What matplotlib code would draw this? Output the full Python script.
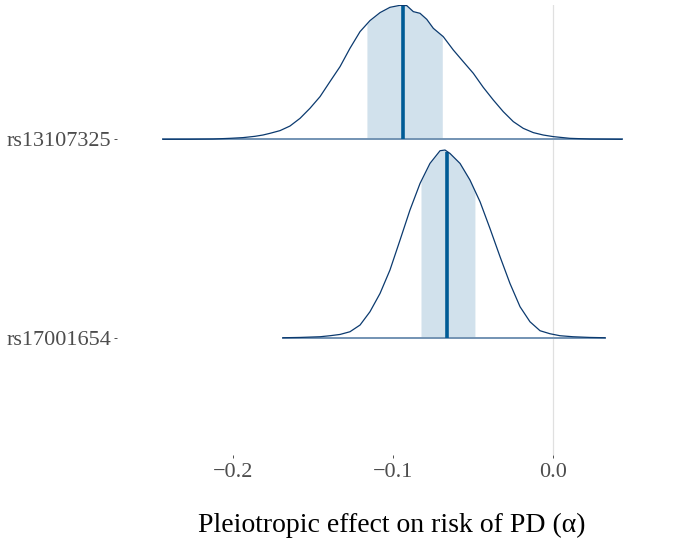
import numpy as np
import matplotlib
matplotlib.use("Agg")
import matplotlib.pyplot as plt

# ---- data ----
params = ["rs17001654", "rs13107325"]  # bottom to top

# rs13107325 scaled density
x_top = [-0.2438, -0.2269, -0.2125, -0.2019, -0.1938, -0.1863, -0.1813, -0.1769,
         -0.1706, -0.1644, -0.1581, -0.1519, -0.1456, -0.1394, -0.1331, -0.1269,
         -0.1206, -0.1144, -0.1081, -0.1019, -0.0956, -0.0914, -0.0873, -0.0831,
         -0.0789, -0.0748, -0.0686, -0.0623, -0.0561, -0.0498, -0.0436, -0.0373,
         -0.0311, -0.0248, -0.0186, -0.0123, -0.0061, 0.0002, 0.0106, 0.0231, 0.0431]
d_top = [0.0, 0.0003, 0.0015, 0.0050, 0.0086, 0.0151, 0.0217, 0.0302,
         0.0439, 0.0670, 0.1058, 0.1563, 0.2152, 0.2908, 0.3664, 0.4587,
         0.5428, 0.5983, 0.6386, 0.6653, 0.6754, 0.6739, 0.6436, 0.6351,
         0.6048, 0.5595, 0.5176, 0.4501, 0.3916, 0.3327, 0.2621, 0.1981,
         0.1396, 0.0892, 0.0554, 0.0338, 0.0217, 0.0136, 0.0050, 0.0015, 0.0]

# rs17001654 scaled density
x_bot = [-0.1688, -0.1581, -0.1456, -0.1394, -0.1331, -0.1269, -0.1206, -0.1144,
         -0.1081, -0.1019, -0.0956, -0.0894, -0.0831, -0.0769, -0.0706, -0.0675,
         -0.0644, -0.0581, -0.0519, -0.0456, -0.0394, -0.0331, -0.0269, -0.0206,
         -0.0144, -0.0081, -0.0019, 0.0044, 0.0125, 0.0231, 0.0325]
d_bot = [0.0, 0.0015, 0.0050, 0.0101, 0.0166, 0.0302, 0.0640, 0.1310,
         0.2233, 0.3412, 0.4924, 0.6436, 0.7777, 0.8785, 0.9425, 0.9461,
         0.9289, 0.8785, 0.7949, 0.6855, 0.5509, 0.4083, 0.2737, 0.1562,
         0.0806, 0.0353, 0.0202, 0.0101, 0.0050, 0.0015, 0.0]

medians = [-0.0661, -0.0936]          # bottom, top
ci_low = [-0.0825, -0.1163]
ci_high = [-0.0488, -0.0692]

xticks = [-0.2, -0.1, 0.0]
xtick_labels = ["\u22120.2", "\u22120.1", "0.0"]
xlabel = "Pleiotropic effect on risk of PD (\u03b1)"

# ---- style ----
plt.rcParams["font.family"] = ["Liberation Serif", "DejaVu Serif"]
c_outline = "#0b3a6f"
c_fill = "#d1e1ec"
c_median = "#005b96"
c_base = "#7393b3"
c_zero = "#e0e0e0"

fig = plt.figure(figsize=(6.75, 5.4), dpi=100)
ax = fig.add_axes([117 / 675, 1 - 455 / 540, (667 - 117) / 675, (455 - 5) / 540])

ax.axvline(0.0, color=c_zero, lw=0.9, zorder=0)

curves = [(x_bot, d_bot), (x_top, d_top)]
for i, (xs, ds) in enumerate(curves):
    y0 = i + 1
    xs = np.asarray(xs)
    ds = np.asarray(ds)
    # interval shading
    lo, hi = ci_low[i], ci_high[i]
    inner = xs[(xs > lo) & (xs < hi)]
    xi = np.concatenate([[lo], inner, [hi]])
    di = np.interp(xi, xs, ds)
    ax.fill_between(xi, y0, y0 + di, color=c_fill, lw=0, zorder=1)
    # median line
    m = medians[i]
    ax.plot([m, m], [y0, y0 + np.interp(m, xs, ds)], color=c_median,
            lw=2.6, solid_capstyle="butt", zorder=3)
    # outline
    ax.plot(xs, y0 + ds, color=c_outline, lw=0.9, zorder=4,
            solid_joinstyle="round")
    # baseline
    ax.plot([xs[0], xs[-1]], [y0, y0], color=c_base, lw=1.4, zorder=2)

ax.set_xlim(-0.2725, 0.07125)
ax.set_ylim(0.409, 2.677)

ax.set_yticks([1, 2])
ax.set_yticklabels(params)
ax.set_xticks(xticks)
ax.set_xticklabels(xtick_labels)

for s in ax.spines.values():
    s.set_visible(False)
ax.tick_params(axis="both", length=2.5, width=0.6, color="#333333",
               labelcolor="#4d4d4d", labelsize=16, pad=1.5)
ax.tick_params(axis="x", pad=3.5)
ax.set_xlabel(xlabel, fontsize=20, color="black", labelpad=22)

fig.savefig("out.png", dpi=100, facecolor="white")
